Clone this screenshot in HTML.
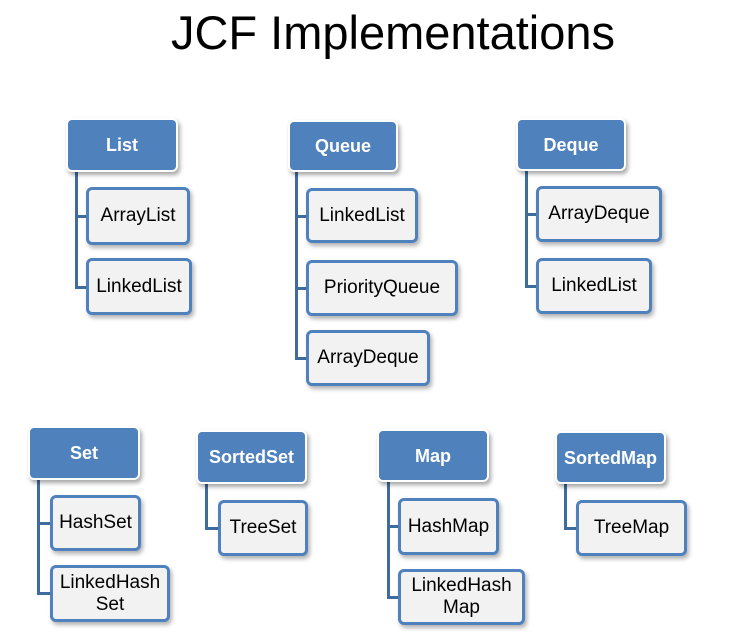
<!DOCTYPE html>
<html><head><style>
body{margin:0;width:754px;height:642px;background:#fff;position:relative;overflow:hidden;font-family:"Liberation Sans",sans-serif}
.t{position:absolute;left:0;width:786px;top:5px;text-align:center;font-size:47px;color:#000}
.h,.c{position:absolute;box-sizing:border-box;display:flex;align-items:center;justify-content:center;text-align:center;border-radius:6px;line-height:22px}
.h{background:#4f81bd;color:#fff;font-size:18px;font-weight:bold;border:2px solid #fff;box-shadow:2px 3px 4px rgba(0,0,0,.35)}
.c{background:#f2f2f2;color:#000;font-size:19px;border:3px solid #4f81bd;box-shadow:2px 3px 4px rgba(0,0,0,.3)}
.v,.hz{position:absolute;background:#3f6c9e}
.v{width:3px}.hz{height:3px}
</style></head><body>
<div class="t">JCF Implementations</div>

<div class="v" style="left:75px;top:170px;height:118px"></div>
<div class="hz" style="left:75px;top:215px;width:12px"></div>
<div class="hz" style="left:75px;top:286px;width:12px"></div>
<div class="h" style="left:66px;top:118px;width:112px;height:54px">List</div>
<div class="c" style="left:86px;top:187px;width:104px;height:58px">ArrayList</div>
<div class="c" style="left:86px;top:258px;width:106px;height:57px">LinkedList</div>

<div class="v" style="left:295px;top:170px;height:190px"></div>
<div class="hz" style="left:295px;top:215px;width:12px"></div>
<div class="hz" style="left:295px;top:287px;width:12px"></div>
<div class="hz" style="left:295px;top:357px;width:12px"></div>
<div class="h" style="left:288px;top:120px;width:110px;height:52px">Queue</div>
<div class="c" style="left:306px;top:188px;width:112px;height:55px">LinkedList</div>
<div class="c" style="left:306px;top:260px;width:152px;height:56px">PriorityQueue</div>
<div class="c" style="left:306px;top:330px;width:124px;height:56px">ArrayDeque</div>

<div class="v" style="left:525px;top:169px;height:118px"></div>
<div class="hz" style="left:525px;top:213px;width:12px"></div>
<div class="hz" style="left:525px;top:285px;width:12px"></div>
<div class="h" style="left:516px;top:118px;width:110px;height:53px">Deque</div>
<div class="c" style="left:536px;top:186px;width:126px;height:56px">ArrayDeque</div>
<div class="c" style="left:536px;top:258px;width:116px;height:56px">LinkedList</div>

<div class="v" style="left:37px;top:478px;height:116px"></div>
<div class="hz" style="left:37px;top:522px;width:14px"></div>
<div class="hz" style="left:37px;top:592px;width:14px"></div>
<div class="h" style="left:28px;top:426px;width:112px;height:54px">Set</div>
<div class="c" style="left:50px;top:495px;width:91px;height:56px">HashSet</div>
<div class="c" style="left:50px;top:565px;width:120px;height:57px">LinkedHash<br>Set</div>

<div class="v" style="left:205px;top:482px;height:47px"></div>
<div class="hz" style="left:205px;top:527px;width:14px"></div>
<div class="h" style="left:196px;top:430px;width:111px;height:54px">SortedSet</div>
<div class="c" style="left:218px;top:500px;width:90px;height:56px">TreeSet</div>

<div class="v" style="left:387px;top:480px;height:118px"></div>
<div class="hz" style="left:387px;top:525px;width:12px"></div>
<div class="hz" style="left:387px;top:596px;width:12px"></div>
<div class="h" style="left:377px;top:429px;width:112px;height:53px">Map</div>
<div class="c" style="left:398px;top:498px;width:101px;height:57px">HashMap</div>
<div class="c" style="left:398px;top:569px;width:127px;height:56px">LinkedHash<br>Map</div>

<div class="v" style="left:564px;top:482px;height:47px"></div>
<div class="hz" style="left:564px;top:527px;width:13px"></div>
<div class="h" style="left:555px;top:431px;width:111px;height:53px">SortedMap</div>
<div class="c" style="left:576px;top:500px;width:111px;height:56px">TreeMap</div>
</body></html>
